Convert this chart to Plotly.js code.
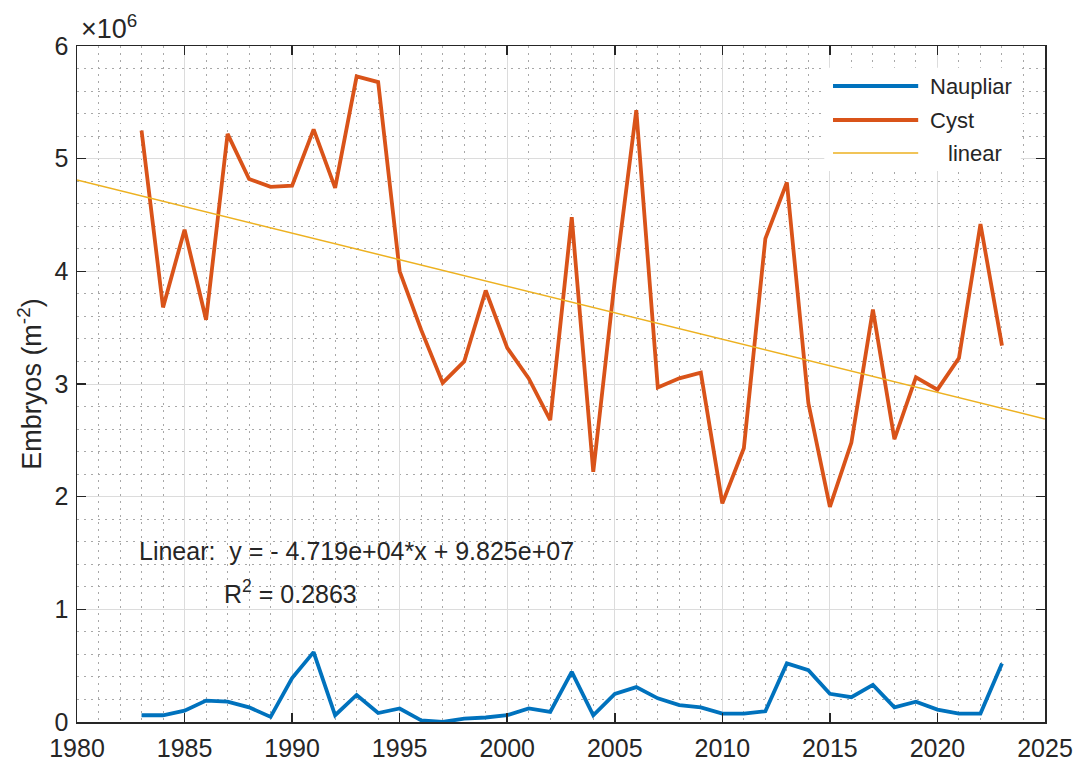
<!DOCTYPE html>
<html>
<head>
<meta charset="utf-8">
<script src="https://cdn.plot.ly/plotly-3.0.1.min.js"></script>
<style>
  html, body { margin: 0; padding: 0; background: #ffffff; }
  #chart { width: 1077px; height: 765px; }
</style>
</head>
<body>
<div id="chart"></div>
<script>
// ---- data (values in units of 10^6 embryos per m^2) ----
const years = [1983,1984,1985,1986,1987,1988,1989,1990,1991,1992,1993,1994,1995,1996,1997,1998,1999,2000,2001,2002,2003,2004,2005,2006,2007,2008,2009,2010,2011,2012,2013,2014,2015,2016,2017,2018,2019,2020,2021,2022,2023];
const naupliar = [0.06,0.06,0.10,0.19,0.18,0.13,0.045,0.39,0.62,0.06,0.24,0.08,0.12,0.015,0.0,0.03,0.04,0.06,0.12,0.09,0.445,0.06,0.25,0.31,0.21,0.15,0.13,0.075,0.075,0.095,0.52,0.46,0.25,0.22,0.33,0.13,0.18,0.11,0.075,0.075,0.52];
const cyst = [5.25,3.68,4.37,3.57,5.22,4.82,4.75,4.76,5.26,4.74,5.73,5.68,4.00,3.48,3.01,3.20,3.83,3.32,3.05,2.68,4.48,2.22,3.92,5.43,2.97,3.05,3.10,1.94,2.43,4.29,4.79,2.83,1.91,2.48,3.66,2.51,3.06,2.95,3.23,4.42,3.34];
const linearX = [1980, 2025];
const linearY = [4.81, 2.69];
const seriesNames = ["Naupliar", "Cyst", "linear"];
const xTicks = [1980,1985,1990,1995,2000,2005,2010,2015,2020,2025];
const yTickVals = [0,1,2,3,4,5,6];
const yTickText = ["0","1","2","3","4","5","6"];
const eqText = "Linear:  y = - 4.719e+04*x + 9.825e+07";
const r2Text = "R<sup>2</sup> = 0.2863";
const yTitle = "Embryos (m<sup>-2</sup>)";
const exponentText = "×10<sup>6</sup>";

const colors = ["#0072BD", "#D95319", "#EDB120"];
const FONT = "Liberation Sans, Arial, Helvetica, sans-serif";
const TXT = "#262626";
const W_MAIN = 3.8, W_LIN = 1.5;

const traces = [
  {x: years, y: naupliar, type: "scatter", mode: "lines", name: seriesNames[0],
   line: {color: colors[0], width: W_MAIN}, showlegend: false},
  {x: years, y: cyst, type: "scatter", mode: "lines", name: seriesNames[1],
   line: {color: colors[1], width: W_MAIN}, showlegend: false},
  {x: linearX, y: linearY, type: "scatter", mode: "lines", name: seriesNames[2],
   line: {color: colors[2], width: W_LIN}, showlegend: false}
];

// manual legend geometry (paper coords)
const legX0 = 0.781, legX1 = 0.869, legTextX = 0.879;
const legY = [0.9408, 0.8905, 0.8417];
const legWidths = [W_MAIN, W_MAIN, W_LIN];

const shapes = [
  {type: "rect", xref: "paper", yref: "paper", x0: 0.772, x1: 0.975, y0: 0.815, y1: 0.968,
   fillcolor: "#ffffff", line: {width: 0}, layer: "above"}
];
seriesNames.forEach((n, i) => {
  shapes.push({type: "line", xref: "paper", yref: "paper", x0: legX0, x1: legX1, y0: legY[i], y1: legY[i],
    line: {color: colors[i], width: legWidths[i]}, layer: "above"});
});

const annotations = [
  {xref: "paper", yref: "paper", x: 0.062, y: 0.253, xanchor: "left", yanchor: "middle",
   text: eqText, showarrow: false, font: {family: FONT, size: 25, color: TXT}},
  {xref: "paper", yref: "paper", x: 0.150, y: 0.192, xanchor: "left", yanchor: "middle",
   text: r2Text, showarrow: false, font: {family: FONT, size: 25, color: TXT}},
  {xref: "paper", yref: "paper", x: 0.002, y: 1.0, xanchor: "left", yanchor: "bottom",
   text: exponentText, showarrow: false, font: {family: FONT, size: 27, color: TXT}}
];
const legTextXs = [legTextX, legTextX, 0.8977];
seriesNames.forEach((n, i) => {
  annotations.push({xref: "paper", yref: "paper", x: legTextXs[i], y: legY[i], xanchor: "left", yanchor: "middle",
    text: n, showarrow: false, font: {family: FONT, size: 22, color: TXT}});
});

const axisCommon = {
  showline: true, linecolor: TXT, linewidth: 1.5, mirror: "ticks",
  ticks: "inside", ticklen: 9, tickwidth: 1.5, tickcolor: TXT,
  showgrid: true, gridcolor: "#dcdcdc", gridwidth: 1,
  zeroline: false,
  tickfont: {family: FONT, size: 25, color: TXT}
};

const layout = {
  width: 1077, height: 765,
  margin: {l: 77, r: 32, t: 46, b: 43, pad: 0},
  paper_bgcolor: "#ffffff", plot_bgcolor: "#ffffff",
  showlegend: false,
  xaxis: Object.assign({}, axisCommon, {
    range: [1980, 2025], tickmode: "array", tickvals: xTicks, ticktext: xTicks.map(String),
    ticklabelstandoff: 3,
    minor: {dtick: 1, showgrid: true, gridcolor: "#a8a8a8", gridwidth: 1, griddash: "1.5px,5.5px", ticks: ""}
  }),
  yaxis: Object.assign({}, axisCommon, {
    range: [0, 6], tickmode: "array", tickvals: yTickVals, ticktext: yTickText,
    ticklabelstandoff: 2,
    minor: {dtick: 0.2, showgrid: true, gridcolor: "#a8a8a8", gridwidth: 1, griddash: "1.5px,5.5px", ticks: ""},
    title: {text: yTitle, font: {family: FONT, size: 27, color: TXT}, standoff: 5}
  }),
  shapes: shapes,
  annotations: annotations
};

Plotly.newPlot("chart", traces, layout, {displayModeBar: false, staticPlot: true});
</script>
</body>
</html>
